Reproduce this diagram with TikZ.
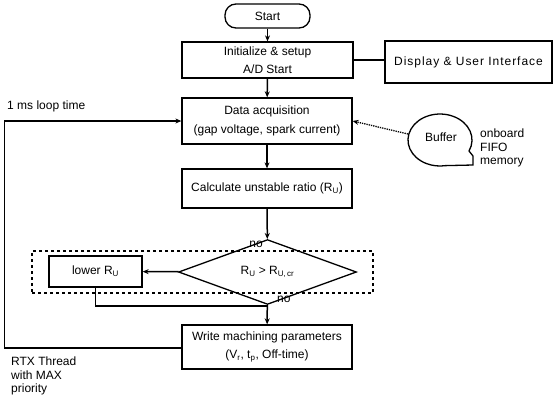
\documentclass[tikz,border=0pt]{standalone}
\usepackage{fontspec}
\setmainfont{Liberation Sans}
\newfontfamily\widefont{Liberation Sans}[LetterSpace=8]
\usetikzlibrary{arrows.meta,shapes.geometric}
\begin{document}
\begin{tikzpicture}[x=1pt,y=-1pt,
  every node/.style={font=\fontsize{12pt}{18.5pt}\selectfont},
  box/.style={draw, line width=1.3pt, inner sep=0pt, align=center},
  conn/.style={line width=1.5pt},
  arr/.style={line width=1.5pt, -{Stealth[length=6pt,width=5pt]}},
  lbl/.style={inner sep=0pt, align=left}
]
\useasboundingbox (0,0) rectangle (553,399);
% nodes
\node[box, rounded corners=11pt, minimum width=85pt, minimum height=24pt] (start) at (267.5,16) {Start};
\node[box, minimum width=171pt, minimum height=36pt] (init) at (267.5,60) {Initialize \& setup\\A/D Start};
\node[box, minimum width=167pt, minimum height=42pt, font=\widefont\fontsize{12pt}{14pt}\selectfont] (disp) at (468.5,62) {Display \& User Interface};
\node[box, minimum width=170pt, minimum height=46pt] (data) at (267,121) {Data acquisition\\(gap voltage, spark current)};
\node[box, minimum width=170pt, minimum height=39pt] (calc) at (267,188.5) {Calculate unstable ratio (R\textsubscript{U})};
\node[box, shape=diamond, minimum width=178pt, minimum height=31pt] (dec) at (267.5,272) {R\textsubscript{U} > R\textsubscript{U,\,cr}};
\node[box, minimum width=93pt, minimum height=31pt] (lower) at (95.5,271.5) {lower R\textsubscript{U}};
\node[box, minimum width=170pt, minimum height=44pt] (write) at (267,347) {Write machining parameters\\(V\textsubscript{r}, t\textsubscript{p}, Off-time)};
% dashed group
\node[draw, dashed, line width=1.1pt, inner sep=0pt, minimum width=341pt, minimum height=42pt] (grp) at (202.5,272) {};
% buffer bubble
\draw[line width=1.3pt] (469,151) arc[start angle=25, end angle=-280, x radius=32, y radius=26] -- (473,165) -- (473,156) -- cycle;
\node (buf) at (441,137) {Buffer};
\coordinate (bufw) at (408,134);
% labels
\node[lbl, anchor=west] (looplbl) at (7,106) {1 ms loop time};
\node[lbl, anchor=north west, font=\fontsize{12pt}{13.5pt}\selectfont] (rtx) at (11,357) {RTX Thread\\with MAX\\priority};
\node[lbl, anchor=north west, font=\fontsize{12pt}{13.5pt}\selectfont] (fifo) at (480,129) {onboard\\FIFO\\memory};
\node[lbl, anchor=south east] (no1) at (263,248) {no};
\node[lbl, anchor=north west] (no2) at (277,296) {no};
% connectors
\draw[arr] (start) -- (init);
\draw[conn] (init) -- (disp.west |- init);
\draw[arr] (init) -- (data);
\draw[arr] (data) -- (calc);
\draw[arr] (calc) -- (dec);
\draw[arr] (dec) -- (lower);
\draw[arr] (dec) -- (write);
\coordinate (join) at (267,306);
\draw[conn] (lower.south) |- (join);
\coordinate (lb) at (4.5,348);
\coordinate (lt) at (4.5,121);
\draw[arr] (write.west |- lb) -- (lb) -- (lt) -- (data.west);
\draw[line width=1.3pt, densely dotted, -{Stealth[length=6pt,width=5pt]}] (bufw) -- (data.east);
\end{tikzpicture}
\end{document}
